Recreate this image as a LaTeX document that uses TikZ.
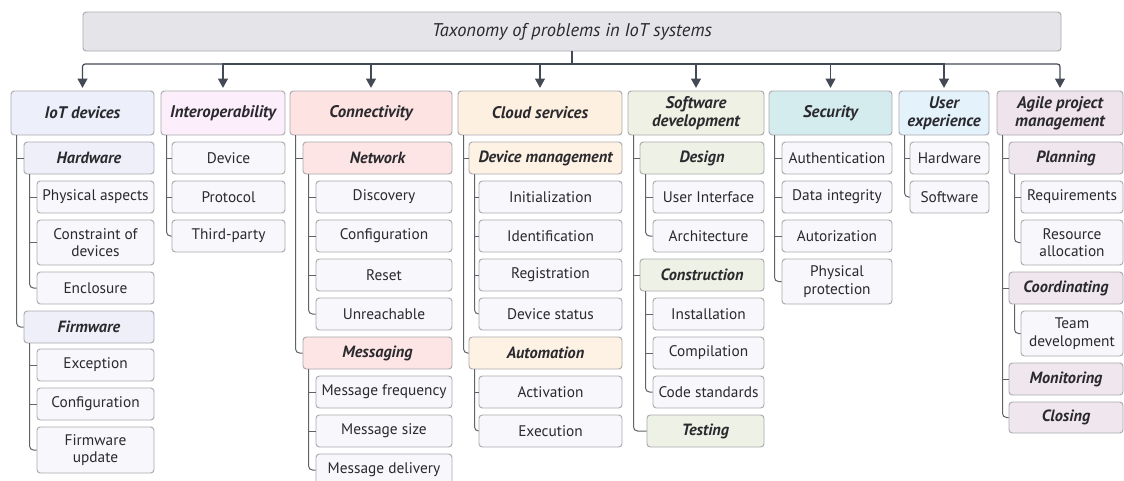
\documentclass[tikz,border=0pt]{standalone}
\usepackage{fontspec}
\setmainfont{PT Sans}
\usetikzlibrary{arrows.meta}
\definecolor{rootc}{HTML}{E4E4E9}
\definecolor{leafc}{HTML}{F8F8FC}
\definecolor{bordc}{HTML}{A9A9AE}
\definecolor{txt}{HTML}{2A2A2E}
\definecolor{arrc}{HTML}{434955}
\definecolor{linec}{HTML}{606368}
\definecolor{iotH}{HTML}{EDF0FB}
\definecolor{iotS}{HTML}{EEEFF9}
\definecolor{intH}{HTML}{FCEFFB}
\definecolor{conH}{HTML}{FDE3E2}
\definecolor{conS}{HTML}{FDE5E5}
\definecolor{cloH}{HTML}{FEF0E0}
\definecolor{cloS}{HTML}{FEF2E5}
\definecolor{swH}{HTML}{EEF1E3}
\definecolor{swS}{HTML}{EEF2E6}
\definecolor{secH}{HTML}{D5ECEF}
\definecolor{uxH}{HTML}{E4F2FC}
\definecolor{agH}{HTML}{EFE3EC}
\definecolor{agS}{HTML}{F0E6EE}
\newcommand\bx[7]{\node[#1,minimum width={(#5-#3)*0.75pt},minimum height={(#6-#4)*0.75pt}] (#2) at ({(#3+#5)/2},{(#4+#6)/2}) {#7};}
\newcommand\ch[3]{\draw[#3] ([xshift=4.5pt]#1.south west) |- (#2.west);}
\newcommand\hd[2]{\draw[#2] (bar) -| (#1.north);}
\tikzset{
  box/.style={draw=bordc, line width=0.7pt, rounded corners=2.5pt, inner sep=0pt, align=center, text=txt},
  rootbox/.style={box, fill=rootc, font=\itshape\fontsize{13.8}{15}\selectfont},
  hdr/.style={box, font=\bfseries\itshape\fontsize{12.6}{13.5}\selectfont},
  subbox/.style={box, font=\bfseries\itshape\fontsize{12.2}{13}\selectfont},
  leaf/.style={box, fill=leafc, font=\fontsize{11.5}{13}\selectfont},
  tk/.style={draw=linec, line width=0.75pt},
  lst/.style={tk, rounded corners=3pt},
  arr/.style={draw=arrc, line width=0.9pt, -{Triangle[width=7.5pt,length=7pt]}, shorten >=2pt},
  arrend/.style={arr, rounded corners=2pt}
}
\begin{document}
\begin{tikzpicture}[x=0.75pt,y=-0.75pt]
\useasboundingbox (0,0) rectangle (1124,480);
\clip (0,0) rectangle (1124,480);
\bx{rootbox}{root}{83}{12}{1061}{51}{Taxonomy of problems in IoT systems}
% headers
\bx{hdr,fill=iotH}{iot}{11}{91}{154}{135}{IoT devices}
\bx{hdr,fill=intH}{int}{161}{91}{285}{135}{Interoperability}
\bx{hdr,fill=conH}{con}{290}{91}{452}{135}{Connectivity}
\bx{hdr,fill=cloH}{clo}{458}{91}{622}{135}{Cloud services}
\bx{hdr,fill=swH}{sw}{628}{91}{764}{135}{Software\\development}
\bx{hdr,fill=secH}{sec}{769}{91}{892}{135}{Security}
\bx{hdr,fill=uxH}{ux}{899}{91}{989}{135}{User\\experience}
\bx{hdr,fill=agH}{ag}{997}{91}{1123}{135}{Agile project\\management}
% IoT devices
\bx{subbox,fill=iotS}{hw}{24}{142}{154}{174}{Hardware}
\bx{leaf}{pa}{37}{181}{154}{213}{Physical aspects}
\bx{leaf}{cod}{37}{220}{154}{265}{Constraint of\\devices}
\bx{leaf}{enc}{37}{272}{154}{304}{Enclosure}
\bx{subbox,fill=iotS}{fw}{24}{311}{154}{343}{Firmware}
\bx{leaf}{exc}{37}{349}{154}{381}{Exception}
\bx{leaf}{fcfg}{37}{388}{154}{420}{Configuration}
\bx{leaf}{fwu}{37}{427}{154}{473}{Firmware\\update}
% Interoperability
\bx{leaf}{idev}{172}{142}{285}{174}{Device}
\bx{leaf}{iprot}{172}{181}{285}{213}{Protocol}
\bx{leaf}{itp}{172}{220}{285}{252}{Third-party}
% Connectivity
\bx{subbox,fill=conS}{net}{303}{142}{452}{174}{Network}
\bx{leaf}{disc}{316}{181}{452}{213}{Discovery}
\bx{leaf}{ncfg}{316}{220}{452}{252}{Configuration}
\bx{leaf}{rst}{316}{259}{452}{291}{Reset}
\bx{leaf}{unr}{316}{298}{452}{330}{Unreachable}
\bx{subbox,fill=conS}{msg}{303}{337}{452}{369}{Messaging}
\bx{leaf}{mfr}{316}{376}{452}{408}{Message frequency}
\bx{leaf}{msz}{316}{415}{452}{447}{Message size}
\bx{leaf}{mdl}{316}{454}{452}{486}{Message delivery}
% Cloud services
\bx{subbox,fill=cloS}{dm}{469}{142}{622}{174}{Device management}
\bx{leaf}{init}{479}{181}{622}{213}{Initialization}
\bx{leaf}{iden}{479}{220}{622}{252}{Identification}
\bx{leaf}{reg}{479}{259}{622}{291}{Registration}
\bx{leaf}{dst}{479}{298}{622}{330}{Device status}
\bx{subbox,fill=cloS}{aut}{469}{337}{622}{369}{Automation}
\bx{leaf}{act}{479}{376}{622}{408}{Activation}
\bx{leaf}{exe}{479}{415}{622}{447}{Execution}
% Software development
\bx{subbox,fill=swS}{des}{640}{142}{764}{174}{Design}
\bx{leaf}{ui}{653}{181}{764}{213}{User Interface}
\bx{leaf}{arch}{653}{220}{764}{252}{Architecture}
\bx{subbox,fill=swS}{cons}{640}{259}{764}{291}{Construction}
\bx{leaf}{inst}{653}{298}{764}{330}{Installation}
\bx{leaf}{comp}{653}{337}{764}{369}{Compilation}
\bx{leaf}{cstd}{653}{376}{764}{408}{Code standards}
\bx{subbox,fill=swS}{test}{647}{415}{764}{447}{Testing}
% Security
\bx{leaf}{auth}{782}{142}{892}{174}{Authentication}
\bx{leaf}{dint}{782}{181}{892}{213}{Data integrity}
\bx{leaf}{autz}{782}{220}{892}{252}{Autorization}
\bx{leaf}{phys}{782}{259}{892}{304}{Physical\\protection}
% User experience
\bx{leaf}{uxhw}{910}{142}{989}{174}{Hardware}
\bx{leaf}{uxsw}{910}{181}{989}{213}{Software}
% Agile
\bx{subbox,fill=agS}{plan}{1009}{142}{1123}{174}{Planning}
\bx{leaf}{req}{1021}{181}{1123}{213}{Requirements}
\bx{leaf}{res}{1021}{220}{1123}{265}{Resource\\allocation}
\bx{subbox,fill=agS}{coord}{1009}{272}{1123}{304}{Coordinating}
\bx{leaf}{team}{1021}{311}{1123}{356}{Team\\development}
\bx{subbox,fill=agS}{mon}{1009}{363}{1123}{395}{Monitoring}
\bx{subbox,fill=agS}{clos}{1009}{402}{1123}{433}{Closing}
% top connectors
\coordinate (bar) at (572,64);
\draw[draw=arrc, line width=0.9pt] (root.south) -- (bar);
\hd{iot}{arrend}
\hd{int}{arr}
\hd{con}{arr}
\hd{clo}{arr}
\hd{sw}{arr}
\hd{sec}{arr}
\hd{ux}{arr}
\hd{ag}{arrend}
% tree connectors
\ch{iot}{hw}{tk}\ch{iot}{fw}{lst}
\ch{hw}{pa}{tk}\ch{hw}{cod}{tk}\ch{hw}{enc}{lst}
\ch{fw}{exc}{tk}\ch{fw}{fcfg}{tk}\ch{fw}{fwu}{lst}
\ch{int}{idev}{tk}\ch{int}{iprot}{tk}\ch{int}{itp}{lst}
\ch{con}{net}{tk}\ch{con}{msg}{lst}
\ch{net}{disc}{tk}\ch{net}{ncfg}{tk}\ch{net}{rst}{tk}\ch{net}{unr}{lst}
\ch{msg}{mfr}{tk}\ch{msg}{msz}{tk}\ch{msg}{mdl}{lst}
\ch{clo}{dm}{tk}\ch{clo}{aut}{lst}
\ch{dm}{init}{tk}\ch{dm}{iden}{tk}\ch{dm}{reg}{tk}\ch{dm}{dst}{lst}
\ch{aut}{act}{tk}\ch{aut}{exe}{lst}
\ch{sw}{des}{tk}\ch{sw}{cons}{tk}\ch{sw}{test}{lst}
\ch{des}{ui}{tk}\ch{des}{arch}{lst}
\ch{cons}{inst}{tk}\ch{cons}{comp}{tk}\ch{cons}{cstd}{lst}
\ch{sec}{auth}{tk}\ch{sec}{dint}{tk}\ch{sec}{autz}{tk}\ch{sec}{phys}{lst}
\ch{ux}{uxhw}{tk}\ch{ux}{uxsw}{lst}
\ch{ag}{plan}{tk}\ch{ag}{coord}{tk}\ch{ag}{mon}{tk}\ch{ag}{clos}{lst}
\ch{plan}{req}{tk}\ch{plan}{res}{lst}
\ch{coord}{team}{lst}
\end{tikzpicture}
\end{document}
